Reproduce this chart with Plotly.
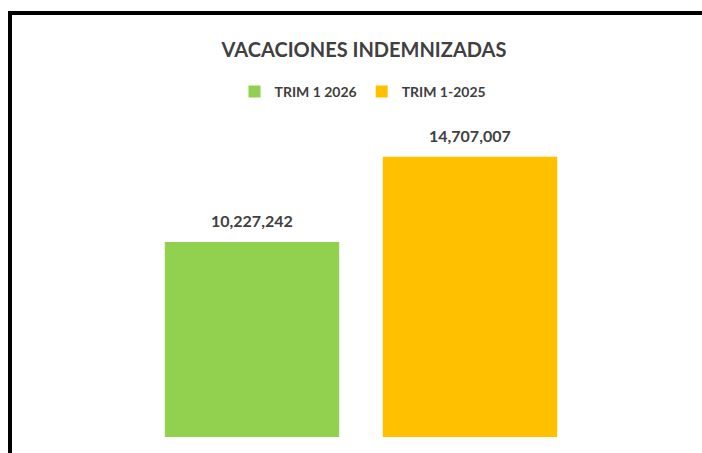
import plotly.graph_objects as go

categories = ["TRIM 1 2026", "TRIM 1-2025"]
values = [10227242, 14707007]
colors = ["#92D050", "#FFC000"]
title_text = "VACACIONES INDEMNIZADAS"

W, H = 702, 453
L, R, T, B = 143, 123, 132, 16
pw = W - L - R
ph = H - T - B

fig = go.Figure()
for cat, val, col in zip(categories, values, colors):
    fig.add_trace(go.Bar(
        x=[cat], y=[val], name=cat, marker=dict(color=col, line=dict(width=0)),
        hoverinfo="skip",
    ))
    fig.add_annotation(
        x=cat, y=val, xref="x", yref="y", text=f"{val:,}", showarrow=False,
        yanchor="bottom", yshift=10,
        font=dict(family="Lato", size=16, color="#404040", weight="bold"),
    )

def px_x(p):
    return (p - L) / pw

def px_y(p):
    return (H - B - p) / ph

# frame lines (left and top)
fig.add_shape(type="line", xref="paper", yref="paper",
              x0=px_x(10), x1=px_x(10), y0=px_y(11), y1=px_y(470),
              line=dict(color="black", width=4))
fig.add_shape(type="line", xref="paper", yref="paper",
              x0=px_x(8), x1=px_x(720), y0=px_y(13), y1=px_y(13),
              line=dict(color="black", width=4))

fig.update_layout(
    width=W, height=H,
    margin=dict(l=L, r=R, t=T, b=B, pad=0),
    paper_bgcolor="white", plot_bgcolor="white",
    barmode="overlay", bargap=0.2,
    title=dict(text=title_text, x=364 / W, xanchor="center", y=1 - 50 / H, yanchor="middle",
               font=dict(family="Lato", size=20, color="#404040", weight="bold")),
    legend=dict(orientation="h", x=px_x(363), xanchor="center", y=px_y(92), yanchor="middle",
                font=dict(family="Lato", size=14, color="#404040", weight="bold"),
                itemwidth=30, tracegroupgap=0, bgcolor="rgba(0,0,0,0)"),
    xaxis=dict(visible=False, categoryorder="array", categoryarray=categories),
    yaxis=dict(visible=False, range=[0, 16e6]),
    showlegend=True,
)

fig.write_html(
    "out.html",
    config={"displayModeBar": False},
    post_script="document.body.style.margin='0';document.body.style.overflow='hidden';",
)
